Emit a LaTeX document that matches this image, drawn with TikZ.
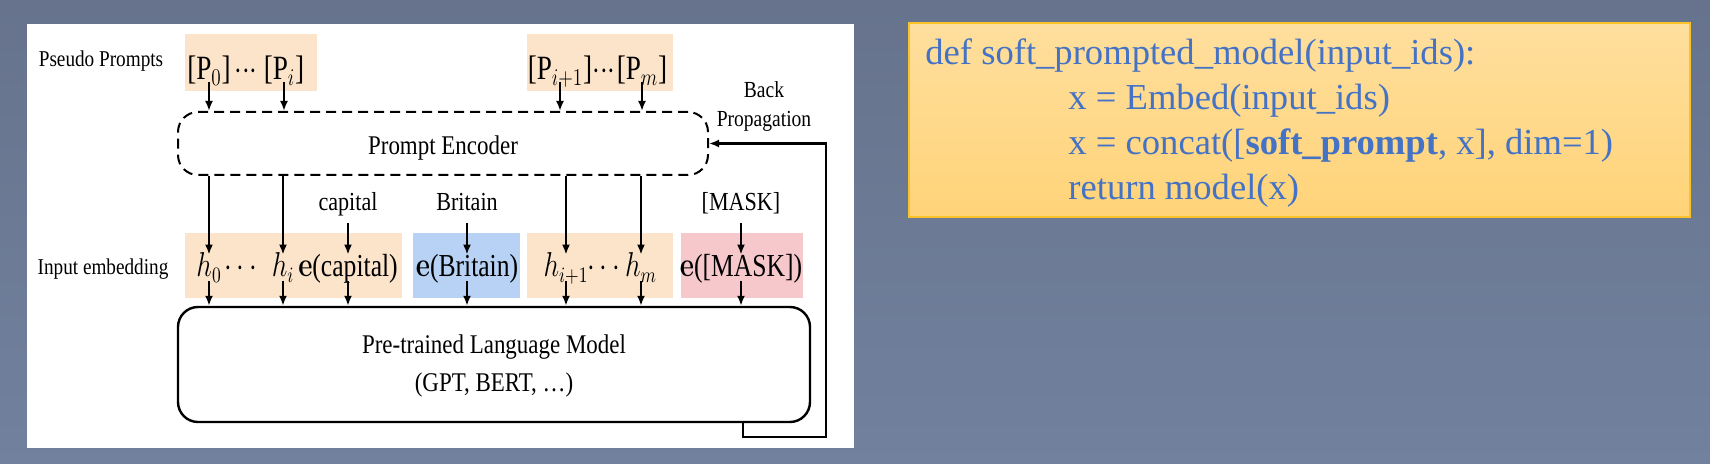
\documentclass[tikz,border=0pt]{standalone}
\usepackage{amsmath}
\usepackage[no-math]{fontspec}
\setmainfont{Liberation Serif}
\usetikzlibrary{arrows.meta,positioning}
\definecolor{slidetop}{RGB}{103,115,140}
\definecolor{slidebot}{RGB}{113,129,158}
\definecolor{peach}{RGB}{251,228,201}
\definecolor{skyblue}{RGB}{183,210,245}
\definecolor{rose}{RGB}{246,200,204}
\definecolor{codetop}{RGB}{255,223,158}
\definecolor{codebot}{RGB}{255,211,120}
\definecolor{codeline}{RGB}{250,195,40}
\definecolor{codeblue}{RGB}{68,114,196}
\begin{document}
\begin{tikzpicture}[x=0.5pt,y=-0.5pt,>={Latex[length=5pt,width=4pt]},
  side/.style={font=\fontsize{11.3}{13}\selectfont,xscale=0.85,anchor=base,inner sep=0pt},
  word/.style={font=\fontsize{13}{15}\selectfont,xscale=0.85,anchor=base,inner sep=3.5pt,text depth=0.25em},
  tok/.style={font=\fontsize{16}{19}\selectfont,xscale=0.8,anchor=base,inner sep=0pt,text height=1.1em,text depth=0.2em},
  ptok/.style={tok,font=\fontsize{17}{20}\selectfont,text height=0.8em,text depth=0.1em},
  code/.style={font=\fontsize{18.3}{22}\selectfont,text=codeblue,anchor=base west,inner sep=0pt},
  arr/.style={->,line width=1pt}]
\useasboundingbox (0,0) rectangle (1710,464);
\shade[top color=slidetop,bottom color=slidebot] (0,0) rectangle (1710,464);
\fill[white] (27,24) rectangle (854,448);
% coloured token strips
\fill[peach] (185,34) rectangle (317,91);
\fill[peach] (527,34) rectangle (673,91);
\fill[peach] (185,233) rectangle (402,298);
\fill[skyblue] (413,233) rectangle (520,298);
\fill[peach] (527,233) rectangle (673,298);
\fill[rose] (681,233) rectangle (803,298);
% row labels
\node[side] (pslbl) at (101,67) {Pseudo Prompts};
\node[side] (inlbl) at (103,275) {Input embedding};
% pseudo prompts
\node[ptok] (P0) at (209,80) {[P$_0$]};
\node[ptok] (pd1) at (246,80) {${\cdot}{\cdot}{\cdot}$};
\node[ptok] (Pi) at (284,80) {[P$_i$]};
\node[ptok] (Pi1) at (560,80) {[P$_{i+1}$]};
\node[ptok] (pd2) at (604,80) {${\cdot}{\cdot}{\cdot}$};
\node[ptok] (Pm) at (642,80) {[P$_m$]};
% encoder and language model
\node[draw,dashed,dash pattern=on 5pt off 3pt,line width=1pt,rounded corners=10pt,
  minimum width=265pt,minimum height=31.5pt] (enc) at (443,143.5) {};
\node[font=\fontsize{13.5}{16}\selectfont,xscale=0.85,anchor=base,inner sep=0pt] (enclbl) at (443,155) {Prompt Encoder};
\node[draw,line width=1.2pt,rounded corners=10pt,minimum width=316pt,minimum height=57.5pt] (lm) at (494,364.5) {};
\node[font=\fontsize{13.5}{19}\selectfont,xscale=0.85,align=center,inner sep=0pt] (lmlbl) at (494,366)
  {Pre-trained Language Model\\(GPT, BERT, \dots)};
% words
\node[word] (wcap) at (348,211) {capital};
\node[word] (wbri) at (467,211) {Britain};
\node[word] (wmask) at (741,211) {[MASK]};
% embeddings
\node[tok] (h0) at (209,277) {$h_0$};
\node[tok] (hd1) at (243,277) {$\cdots$};
\node[tok] (hi) at (283,277) {$h_i$};
\node[tok] (ecap) at (348,277) {$\mathbf{e}$(capital)};
\node[tok] (ebri) at (467,277) {$\mathbf{e}$(Britain)};
\node[tok] (hi1) at (566,277) {$h_{i+1}$};
\node[tok] (hd2) at (606,277) {$\cdots$};
\node[tok] (hm) at (641,277) {$h_m$};
\node[tok] (emask) at (741,277) {$\mathbf{e}$([MASK])};
\node[font=\fontsize{11.5}{14.5}\selectfont,xscale=0.85,align=center,inner sep=0pt] (bplbl) at (764,107) {Back\\Propagation};
% connectors
\foreach \t in {P0,Pi,Pi1,Pm}
  \draw[arr] (\t.south) -- (\t.south |- enc.north);
\foreach \t in {h0,hi,hi1,hm}
  \draw[arr] (\t.north |- enc.south) -- (\t.north);
\draw[arr] (wcap.south) -- (ecap.north);
\draw[arr] (wbri.south) -- (ebri.north);
\draw[arr] (wmask.south) -- (emask.north);
\foreach \t in {h0,hi,ecap,ebri,hi1,hm,emask}
  \draw[arr] (\t.south) -- (\t.south |- lm.north);
\coordinate (bpturn) at (743,437);
\coordinate (bpcorner) at (826,437);
\draw[arr,line width=1.2pt] (bpturn |- lm.south) -- (bpturn) -- (bpcorner) |- (enc.east);
% code panel
\shadedraw[top color=codetop,bottom color=codebot,draw=codeline,line width=0.8pt] (909,23) rectangle (1690,217);
\node[code] (c1) at (925,65) {def soft\_prompted\_model(input\_ids):};
\node[code] (c2) at (1068,110) {x = Embed(input\_ids)};
\node[code] (c3) at (1068,155) {x = concat([\textbf{soft\_prompt}, x], dim=1)};
\node[code] (c4) at (1068,200) {return model(x)};
\end{tikzpicture}
\end{document}
